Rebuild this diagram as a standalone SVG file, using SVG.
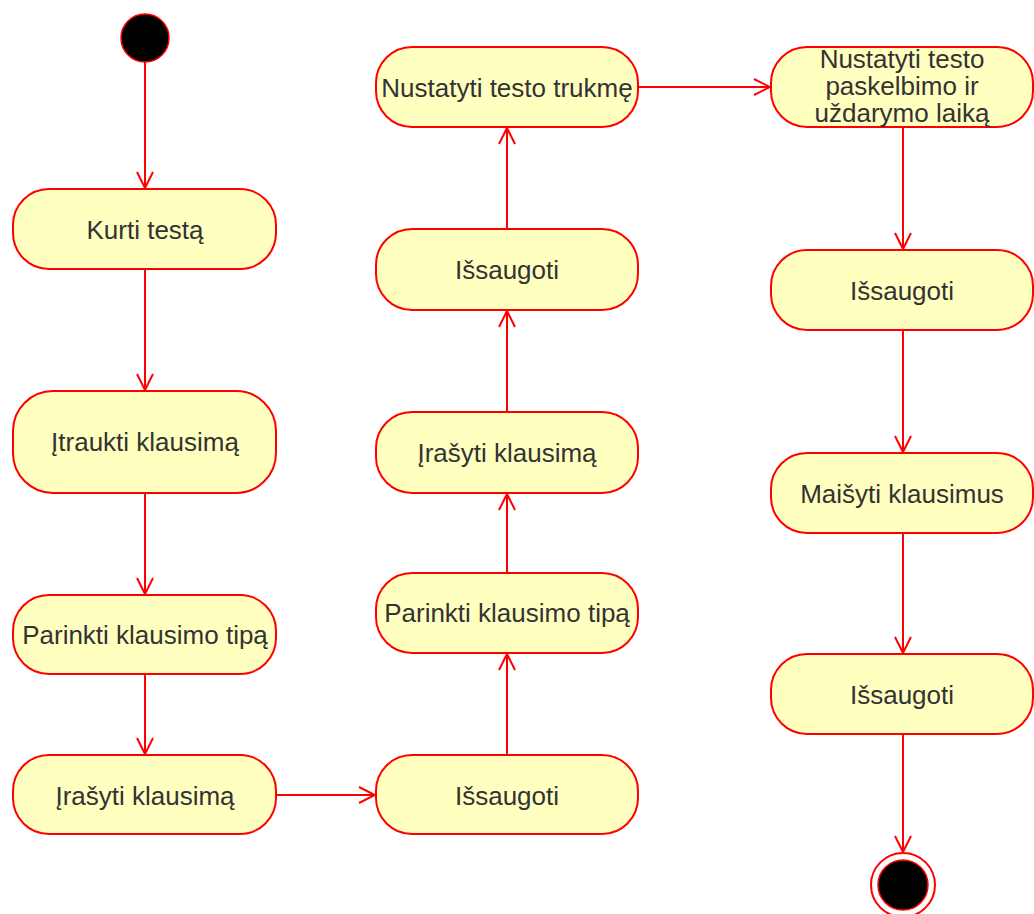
<svg xmlns="http://www.w3.org/2000/svg" width="1034" height="914" viewBox="0 0 1034 914">
<defs>
<marker id="arr" viewBox="0 0 20 20" refX="18" refY="10" markerWidth="20" markerHeight="20" markerUnits="userSpaceOnUse" orient="auto">
<path d="M2,2 L18,10 L2,18" fill="none" stroke="#FF0000" stroke-width="2"/>
</marker>
<style>
.n{fill:#FFFFC0;stroke:#FF0000;stroke-width:2}
.t{font-family:"Liberation Sans",Arial,sans-serif;font-size:26px;fill:#333333;text-anchor:middle;dominant-baseline:central}
.c{fill:none;stroke:#FF0000;stroke-width:2;marker-end:url(#arr)}
</style>
</defs>
<rect width="1034" height="914" fill="#FFFFFF"/>
<g id="connectors">
<line class="c" x1="145" y1="62" x2="145" y2="188"/>
<line class="c" x1="145" y1="269" x2="145" y2="390"/>
<line class="c" x1="145" y1="493" x2="145" y2="594"/>
<line class="c" x1="145" y1="674" x2="145" y2="754"/>
<line class="c" x1="276" y1="795" x2="375" y2="795"/>
<line class="c" x1="507" y1="755" x2="507" y2="654"/>
<line class="c" x1="507" y1="573" x2="507" y2="494"/>
<line class="c" x1="507" y1="412" x2="507" y2="311"/>
<line class="c" x1="507" y1="229" x2="507" y2="128"/>
<line class="c" x1="638" y1="87" x2="770" y2="87"/>
<line class="c" x1="903" y1="127" x2="903" y2="249"/>
<line class="c" x1="903" y1="330" x2="903" y2="452"/>
<line class="c" x1="903" y1="533" x2="903" y2="653"/>
<line class="c" x1="903" y1="734" x2="903" y2="852"/>
</g>
<g id="start"><circle cx="145" cy="38" r="24" fill="#000000" stroke="#FF0000" stroke-width="1.5"/></g>
<g id="n1"><rect class="n" x="13" y="189" width="263" height="80" rx="36" ry="36"/><text class="t" x="145" y="230">Kurti testą</text></g>
<g id="n2"><rect class="n" x="13" y="391" width="263" height="102" rx="40" ry="40"/><text class="t" x="145" y="442">Įtraukti klausimą</text></g>
<g id="n3"><rect class="n" x="13" y="595" width="263" height="79" rx="36" ry="36"/><text class="t" x="145" y="635">Parinkti klausimo tipą</text></g>
<g id="n4"><rect class="n" x="13" y="755" width="263" height="79" rx="36" ry="36"/><text class="t" x="145" y="796">Įrašyti klausimą</text></g>
<g id="n5"><rect class="n" x="376" y="755" width="262" height="79" rx="36" ry="36"/><text class="t" x="507" y="796">Išsaugoti</text></g>
<g id="n6"><rect class="n" x="376" y="573" width="262" height="80" rx="36" ry="36"/><text class="t" x="507" y="613">Parinkti klausimo tipą</text></g>
<g id="n7"><rect class="n" x="376" y="412" width="262" height="81" rx="36" ry="36"/><text class="t" x="507" y="453">Įrašyti klausimą</text></g>
<g id="n8"><rect class="n" x="376" y="229" width="262" height="81" rx="36" ry="36"/><text class="t" x="507" y="270">Išsaugoti</text></g>
<g id="n9"><rect class="n" x="376" y="47" width="262" height="80" rx="36" ry="36"/><text class="t" x="507" y="88">Nustatyti testo trukmę</text></g>
<g id="n10"><rect class="n" x="771" y="47" width="262" height="80" rx="36" ry="36"/><text class="t" x="902" y="59">Nustatyti testo</text><text class="t" x="902" y="86">paskelbimo ir</text><text class="t" x="902" y="113">uždarymo laiką</text></g>
<g id="n11"><rect class="n" x="771" y="250" width="262" height="80" rx="36" ry="36"/><text class="t" x="902" y="291">Išsaugoti</text></g>
<g id="n12"><rect class="n" x="771" y="453" width="262" height="80" rx="36" ry="36"/><text class="t" x="902" y="494">Maišyti klausimus</text></g>
<g id="n13"><rect class="n" x="771" y="654" width="262" height="80" rx="36" ry="36"/><text class="t" x="902" y="695">Išsaugoti</text></g>
<g id="end"><circle cx="903" cy="885" r="32" fill="#FFFFFF" stroke="#FF0000" stroke-width="2"/><circle cx="903" cy="885" r="25" fill="#000000" stroke="#FF0000" stroke-width="1.5"/></g>
</svg>
